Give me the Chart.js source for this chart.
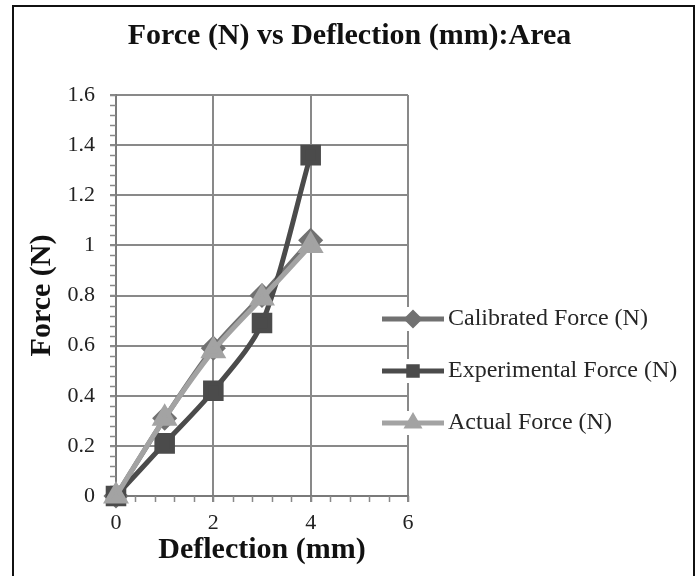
<!DOCTYPE html>
<html>
<head>
<meta charset="utf-8">
<script src="https://cdn.jsdelivr.net/npm/chart.js@4"></script>
<style>
  html, body { margin: 0; padding: 0; background: #fff; }
  #wrap { position: relative; width: 699px; height: 576px; overflow: hidden; }
  #frame { position: absolute; left: 12px; top: 5px; width: 679px; height: 600px; border: 2px solid #111; pointer-events: none; }
</style>
</head>
<body>
<div id="wrap">
  <canvas id="chart" width="699" height="576"></canvas>
  <div id="frame"></div>
</div>
<script>
const deflection = [0, 1, 2, 3, 4];
const calibratedForce = [0, 0.31, 0.59, 0.80, 1.02];
const experimentalForce = [0, 0.21, 0.42, 0.69, 1.36];
const actualForce = [0, 0.31, 0.58, 0.79, 1.00];
const seriesNames = ['Calibrated Force (N)', 'Experimental Force (N)', 'Actual Force (N)'];
const xTicks = [0, 2, 4, 6];
const yTicks = [0, 0.2, 0.4, 0.6, 0.8, 1, 1.2, 1.4, 1.6];

const serif = "'Liberation Serif', 'DejaVu Serif', serif";
const gridGray = '#898989';

function points(ys) {
    return deflection.map((x, i) => ({ x: x, y: ys[i] }));
}

// small tick marks between the major grid lines
const minorTicks = {
    id: 'minorTicks',
    beforeDatasetsDraw(chart) {
        const ctx = chart.ctx;
        const xs = chart.scales.x, ys = chart.scales.y;
        ctx.save();
        ctx.strokeStyle = gridGray;
        ctx.lineWidth = 1.5;
        ctx.beginPath();
        for (let v = 0; v <= 1.6001; v += 0.04) {
            const py = Math.round(ys.getPixelForValue(v)) + 0.5;
            ctx.moveTo(xs.left - 6, py);
            ctx.lineTo(xs.left, py);
        }
        for (let v = 0; v <= 6.001; v += 0.4) {
            const px = Math.round(xs.getPixelForValue(v)) + 0.5;
            ctx.moveTo(px, ys.bottom);
            ctx.lineTo(px, ys.bottom + 6);
        }
        ctx.stroke();
        ctx.restore();
    }
};

// legend with a line and marker for each series, sitting over the right edge of the plot
const lineLegend = {
    id: 'lineLegend',
    afterDraw(chart) {
        const ctx = chart.ctx;
        const area = chart.chartArea;
        const x0 = area.right - 26;
        const y0 = 319;
        const gap = 52;
        ctx.save();
        chart.data.datasets.forEach((ds, i) => {
            const y = y0 + i * gap;
            ctx.fillStyle = '#fff';
            ctx.fillRect(x0 - 2, y - 12, 70, 24);
            ctx.strokeStyle = ds.borderColor;
            ctx.lineWidth = 5;
            ctx.beginPath();
            ctx.moveTo(x0, y);
            ctx.lineTo(x0 + 62, y);
            ctx.stroke();
            Chart.helpers.drawPoint(ctx, {
                pointStyle: ds.pointStyle,
                radius: 6,
                borderWidth: 1,
                rotation: 0
            }, x0 + 31, y);
            ctx.fillStyle = ds.borderColor;
            ctx.fill();
            ctx.fillStyle = '#262626';
            ctx.font = '24px ' + serif;
            ctx.textBaseline = 'middle';
            ctx.textAlign = 'left';
            ctx.fillText(ds.label, x0 + 66, y);
        });
        ctx.restore();
    }
};

new Chart(document.getElementById('chart'), {
    type: 'line',
    data: {
        datasets: [{
            label: seriesNames[0],
            data: points(calibratedForce),
            borderColor: '#717171',
            backgroundColor: '#717171',
            pointStyle: 'rectRot',
            pointRadius: 9,
            borderWidth: 5,
            tension: 0.3,
            clip: false,
            order: 2
        }, {
            label: seriesNames[1],
            data: points(experimentalForce),
            borderColor: '#4b4b4b',
            backgroundColor: '#4b4b4b',
            pointStyle: 'rect',
            pointRadius: 11,
            borderWidth: 5,
            tension: 0.3,
            clip: false,
            order: 1
        }, {
            label: seriesNames[2],
            data: points(actualForce),
            borderColor: '#a3a3a3',
            backgroundColor: '#a3a3a3',
            pointStyle: 'triangle',
            pointRadius: 10,
            borderWidth: 5,
            tension: 0.3,
            clip: false,
            order: 0
        }]
    },
    options: {
        responsive: false,
        animation: false,
        layout: {
            padding: 0
        },
        plugins: {
            legend: { display: false },
            tooltip: { enabled: false },
            title: {
                display: true,
                text: 'Force (N) vs Deflection (mm):Area',
                color: '#111',
                font: { family: serif, size: 30, weight: 'bold' },
                padding: { top: 18, bottom: 41 },
                position: 'top',
                align: 'center',
                fullSize: true
            }
        },
        scales: {
            x: {
                type: 'linear',
                min: 0,
                max: 6,
                afterBuildTicks(scale) {
                    scale.ticks = xTicks.map(v => ({ value: v }));
                },
                afterFit(scale) { scale.height = 80; },
                ticks: {
                    color: '#222',
                    font: { family: serif, size: 22 },
                    padding: 8,
                    callback: v => String(v)
                },
                grid: { color: gridGray, lineWidth: 2, tickLength: 6 },
                border: { color: '#7a7a7a', width: 2 },
                title: {
                    display: true,
                    text: 'Deflection (mm)',
                    color: '#111',
                    font: { family: serif, size: 30, weight: 'bold' },
                    padding: { top: 0, bottom: 8 }
                }
            },
            y: {
                type: 'linear',
                min: 0,
                max: 1.6,
                afterBuildTicks(scale) {
                    scale.ticks = yTicks.map(v => ({ value: v }));
                },
                afterFit(scale) { scale.width = 116; },
                ticks: {
                    color: '#222',
                    font: { family: serif, size: 22 },
                    padding: 15,
                    callback: v => String(v)
                },
                grid: { color: gridGray, lineWidth: 2, tickLength: 6 },
                border: { color: '#7a7a7a', width: 2 },
                title: {
                    display: true,
                    text: 'Force (N)',
                    color: '#111',
                    font: { family: serif, size: 30, weight: 'bold' },
                    padding: { top: 24, bottom: 0 }
                }
            },
            // empty axis on the right that reserves the space the legend sits in
            spacer: {
                type: 'linear',
                position: 'right',
                display: true,
                afterFit(scale) { scale.width = 291; },
                ticks: { display: false },
                grid: { display: false, drawTicks: false },
                border: { display: false }
            }
        }
    },
    plugins: [minorTicks, lineLegend]
});
</script>
</body>
</html>
